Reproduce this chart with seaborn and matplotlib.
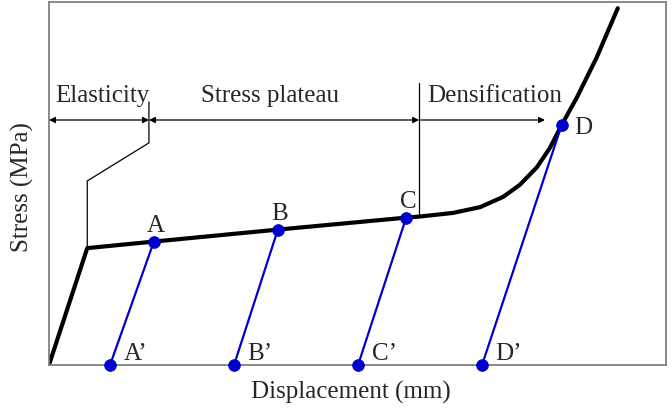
import matplotlib
matplotlib.use('Agg')
import matplotlib.pyplot as plt
import pandas as pd
import seaborn as sns

# Main stress-displacement curve (schematic)
curve_x = [0.0, 0.62, 1.70, 3.71, 5.79, 6.01, 6.55, 6.99, 7.36, 7.63, 7.91, 8.12, 8.31, 8.56, 8.88, 9.22]
curve_y = [0.0, 3.22, 3.40, 3.73, 4.06, 4.09, 4.19, 4.35, 4.63, 4.96, 5.45, 5.98, 6.61, 7.38, 8.48, 9.83]

# Unloading points on the curve and where they land on the axis
point_names = ['A', 'B', 'C', 'D']
load_x = [1.70, 3.71, 5.79, 8.31]
load_y = [3.40, 3.73, 4.06, 6.61]
unload_x = [0.99, 3.00, 5.01, 7.02]

# Region boundaries and labels
region_names = ['Elasticity', 'Stress plateau', 'Densification']
bound_x = [0.0, 1.62, 6.0, 8.04]

sns.set_style('white')
plt.rcParams['font.family'] = ['Liberation Serif', 'DejaVu Serif']

fig = plt.figure(figsize=(6.72, 4.11), dpi=100)
ax = fig.add_axes([0.0729, 0.112, 0.918, 0.883])

df_curve = pd.DataFrame({'x': curve_x, 'y': curve_y})
sns.lineplot(data=df_curve, x='x', y='y', ax=ax, sort=False, color='black',
             linewidth=3.0, estimator=None, solid_joinstyle='round',
             solid_capstyle='round')

blue = '#0000CC'
for name, lx, ly, ux in zip(point_names, load_x, load_y, unload_x):
    seg = pd.DataFrame({'x': [ux, lx], 'y': [0, ly]})
    sns.lineplot(data=seg, x='x', y='y', ax=ax, sort=False, color=blue,
                 linewidth=1.6, estimator=None)

pts = pd.DataFrame({'x': load_x + unload_x, 'y': load_y + [0] * 4})
sns.scatterplot(data=pts, x='x', y='y', ax=ax, color=blue, s=70,
                edgecolor=blue, zorder=5, clip_on=False)

fs = 18
# point labels
for name, lx, ly, ux in zip(point_names, load_x, load_y, unload_x):
    if name == 'D':
        ax.text(lx + 0.2, ly - 0.08, name, fontsize=fs, ha='left', va='center')
    else:
        ax.text(lx + 0.03, ly + 0.42, name, fontsize=fs, ha='center', va='center')
    ax.text(ux + 0.22, 0.3, name + '\u2019', fontsize=fs, ha='left', va='center')

# region arrows
arrow_y = 6.75
arr = dict(arrowstyle='<|-|>', color='black', lw=0.9, mutation_scale=9,
           shrinkA=0, shrinkB=0)
ax.annotate('', xy=(bound_x[1], arrow_y), xytext=(bound_x[0], arrow_y), arrowprops=arr)
ax.annotate('', xy=(bound_x[2], arrow_y), xytext=(bound_x[1], arrow_y), arrowprops=arr)
ax.annotate('', xy=(bound_x[3], arrow_y), xytext=(bound_x[2], arrow_y),
            arrowprops=dict(arrowstyle='-|>', color='black', lw=0.9,
                            mutation_scale=9, shrinkA=0, shrinkB=0))

# boundary leader lines
ax.plot([1.62, 1.62, 0.62, 0.62], [7.25, 6.12, 5.07, 3.22], color='black', lw=0.9)
ax.plot([6.0, 6.0], [7.77, 4.09], color='black', lw=0.9)

ax.text(0.86, 7.42, region_names[0], fontsize=fs, ha='center', va='center')
ax.text(3.58, 7.42, region_names[1], fontsize=fs, ha='center', va='center')
ax.text(6.13, 7.42, region_names[2], fontsize=fs, ha='left', va='center')

ax.set_xlim(0, 10)
ax.set_ylim(0, 10)
ax.set_xticks([])
ax.set_yticks([])
for sp in ax.spines.values():
    sp.set_color('#808080')
    sp.set_linewidth(1.3)
ax.set_xlabel('Displacement (mm)', fontsize=fs)
ax.xaxis.set_label_coords(0.49, -0.045)
ax.set_ylabel('Stress (MPa)', fontsize=fs)
ax.yaxis.set_label_coords(-0.024, 0.49)

fig.savefig('out.png', dpi=100)
